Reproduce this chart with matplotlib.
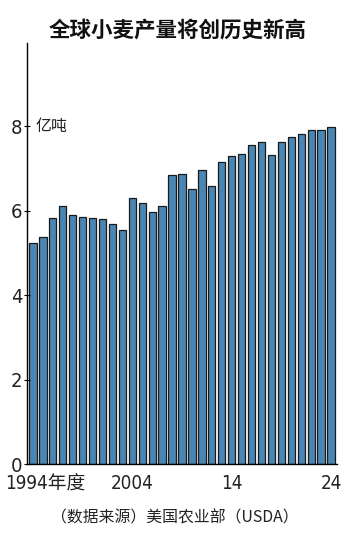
import numpy as np
import matplotlib
matplotlib.use("Agg")
import matplotlib.pyplot as plt
import matplotlib.transforms as mtransforms

# ---- data: world wheat production (100 million tonnes), USDA ----
years = list(range(1994, 2025))
production = [5.24, 5.38, 5.83, 6.10, 5.90, 5.86, 5.83, 5.81, 5.68, 5.55,
              6.29, 6.19, 5.96, 6.12, 6.83, 6.87, 6.50, 6.97, 6.59, 7.15,
              7.28, 7.35, 7.56, 7.63, 7.31, 7.62, 7.74, 7.81, 7.90, 7.90,
              7.98]
xtick_years = [1994, 2004, 2014, 2024]
xtick_labels = ["1994年度", "2004", "14", "24"]
yticks = [0, 2, 4, 6, 8]

cjk = ["Noto Sans CJK SC", "DejaVu Sans"]
narrow = ["DejaVu Sans", "Noto Sans CJK SC"]

plt.rcParams["font.family"] = cjk

fig = plt.figure(figsize=(3.5, 5.33), dpi=100)
ax = fig.add_axes([0.077, 0.129, 0.886, 0.790])

x = np.arange(len(years))
ax.bar(x, production, width=0.74, color="#4a86b4",
       edgecolor="#1a1a1a", linewidth=0.9)

ax.set_xlim(-0.6, len(years) - 0.4)
ax.set_ylim(0, 9.96)

for s in ["top", "right"]:
    ax.spines[s].set_visible(False)
ax.spines["left"].set_linewidth(1.0)
ax.spines["bottom"].set_linewidth(1.0)

ax.set_yticks(yticks)
ax.set_yticklabels([str(v) for v in yticks], family=narrow,
                   fontstretch="condensed", fontsize=14.5, color="#222222")
ax.tick_params(axis="y", direction="inout", length=5, width=0.8, pad=1)
ax.set_xticks([])

# x labels under the bars
trans = mtransforms.blended_transform_factory(ax.transData, ax.transAxes)
for yr, lab in zip(xtick_years, xtick_labels):
    i = years.index(yr)
    if i == 0:
        ax.text(i - 2.8, -0.024, lab, transform=trans, ha="left", va="top",
                family=narrow, fontstretch="condensed", fontsize=13.5,
                color="#222222")
    else:
        ax.text(i, -0.024, lab, transform=trans, ha="center", va="top",
                family=narrow, fontstretch="condensed", fontsize=13.5,
                color="#222222")

# unit label next to the top tick
ax.text(0.3, 8, "亿吨", ha="left", va="center", fontsize=11.5,
        color="#222222")

fig.text(0.507, 0.944, "全球小麦产量将创历史新高", ha="center", va="center",
         fontsize=15.5, fontweight="bold", color="#111111")
fig.text(0.5, 0.028, "（数据来源）美国农业部（USDA）", ha="center",
         va="center", fontsize=11.4, color="#222222")

fig.savefig("out.png", dpi=100)
